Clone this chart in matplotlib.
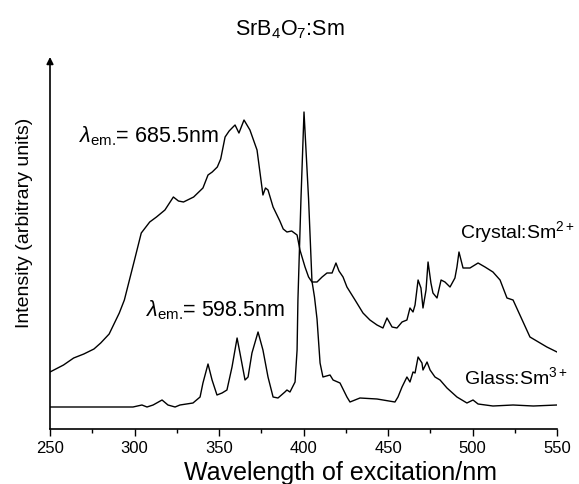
import matplotlib
matplotlib.use('Agg')
import matplotlib.pyplot as plt
from matplotlib.ticker import MultipleLocator

plt.rcParams['font.family'] = ['Liberation Sans', 'DejaVu Sans']
plt.rcParams['mathtext.fontset'] = 'custom'
plt.rcParams['mathtext.rm'] = 'Liberation Sans'
plt.rcParams['mathtext.it'] = 'Liberation Sans:italic'

# Crystal:Sm2+ excitation spectrum (lambda_em = 685.5 nm)
crystal_nm = [250, 258, 264, 270, 276, 280, 285, 291, 294, 297, 300, 304, 309, 313, 318,
              323, 326, 329, 335, 340.5, 343.5, 346, 349, 351, 353.6, 356, 358.3, 359.5,
              361.8, 364.8, 368.3, 372.5, 376, 377.5, 379, 382, 386, 388, 390.2, 393,
              396.2, 397.9, 400.9, 403, 405, 408, 411, 413.9, 416.9, 419.2, 421, 423.4,
              425.7, 430.5, 435.2, 439.3, 443.5, 447, 449.4, 452.4, 455.3, 458.3, 461.2,
              463, 464.8, 466, 467.8, 469.5, 470.7, 472.5, 473.7, 475.4, 476.6, 479,
              481.4, 483.7, 486.7, 489.6, 490.8, 492, 494.4, 498.5, 503.3, 507.4, 512.1,
              516.3, 520.4, 524, 534, 544, 550]
crystal_int = [57, 64, 71, 75, 80, 86, 95, 116, 129, 149, 169, 196, 207, 212, 219,
               232, 228, 227, 232, 241, 254, 257, 262, 270, 292, 298, 302, 304,
               296, 309, 299, 279, 234, 241, 239, 222, 208, 200, 197, 198,
               194, 179, 162, 152, 147, 147, 152, 156, 156, 166, 158, 152,
               142, 129, 116, 109, 104, 101, 111, 102, 101, 107, 109,
               121, 117, 124, 149, 141, 121, 139, 167, 146, 136, 131,
               149, 147, 142, 151, 162, 177, 161, 161, 166, 162, 157,
               149, 131, 129, 92, 82, 77]

# Glass:Sm3+ excitation spectrum (lambda_em = 598.5 nm)
glass_nm = [250, 263.6, 283.7, 299.1, 304.4, 307.4, 311, 316.3, 319.8, 324, 326.9,
            334.6, 338.8, 340.5, 343.5, 345.9, 348.8, 351.8, 354.7, 357.7, 360.7,
            362.4, 365.4, 367.2, 369.5, 373.1, 376, 379, 382, 384.9, 389, 390.2, 392,
            395, 396.2, 396.7, 398.5, 400.3, 403, 405, 406.5, 408, 409.8, 411.5, 415.7,
            417.5, 421.6, 425.7, 427.5, 433.4, 443.5, 454.1, 455.9, 458.3, 461.2, 463,
            464.8, 466, 467.8, 470.1, 470.7, 473.1, 474.9, 477.8, 480.8, 484.9, 490.8,
            496.7, 500.3, 503.3, 512.1, 524, 536, 550]
glass_int = [22, 22, 22, 22, 24, 22, 24, 29, 24, 22, 24,
             26, 32, 46, 65, 49, 34, 36, 39, 62, 91,
             76, 49, 52, 76, 97, 79, 52, 32, 31, 37, 39, 37,
             47, 79, 129, 230, 317, 230, 148, 132, 110, 66, 52, 54,
             49, 46, 32, 27, 31, 30, 27, 32, 42, 52, 47,
             57, 56, 72, 66, 59, 67, 59, 52, 49, 41, 32,
             26, 29, 25, 23, 24, 23, 24]

fig = plt.figure(figsize=(5.79, 4.84), dpi=100)
ax = fig.add_axes([50 / 579, 1 - 429 / 484, 507 / 579, 372 / 484])

ax.plot(crystal_nm, crystal_int, color='black', lw=1.0)
ax.plot(glass_nm, glass_int, color='black', lw=1.0)

ax.set_xlim(250, 550)
ax.set_ylim(0, 372)
ax.xaxis.set_major_locator(MultipleLocator(50))
ax.xaxis.set_minor_locator(MultipleLocator(25))
ax.tick_params(axis='x', which='major', length=5, width=1, labelsize=12, direction='out')
ax.tick_params(axis='x', which='minor', length=3, width=1, direction='out')
ax.set_yticks([])
for s in ['top', 'right', 'left']:
    ax.spines[s].set_visible(False)
ax.spines['bottom'].set_linewidth(1.2)

# y axis drawn as an arrow
ax.annotate('', xy=(0, 1.0), xytext=(0, 0), xycoords='axes fraction',
            arrowprops=dict(arrowstyle='-|>', lw=1.2, color='black',
                            mutation_scale=10, shrinkA=0, shrinkB=0),
            annotation_clip=False)

ax.text(267, 287, r'$\lambda_{\rm em.}\!$= 685.5nm', fontsize=15.5, va='baseline')
ax.text(307, 113, r'$\lambda_{\rm em.}\!$= 598.5nm', fontsize=15.5, va='baseline')
ax.text(492.6, 191, r'Crystal:Sm$^{2+}$', fontsize=14, va='baseline')
ax.text(495, 45, r'Glass:Sm$^{3+}$', fontsize=14, va='baseline')

fig.text(290 / 579, 1 - 30 / 484, r'SrB$_4$O$_7$:Sm', fontsize=15.5, ha='center', va='center')
fig.text(341 / 579, 1 - 473 / 484, 'Wavelength of excitation/nm', fontsize=18,
         ha='center', va='center')
fig.text(25 / 579, 1 - 223 / 484, 'Intensity (arbitrary units)', fontsize=14,
         ha='center', va='center', rotation=90)

fig.savefig('out.png', dpi=100)
